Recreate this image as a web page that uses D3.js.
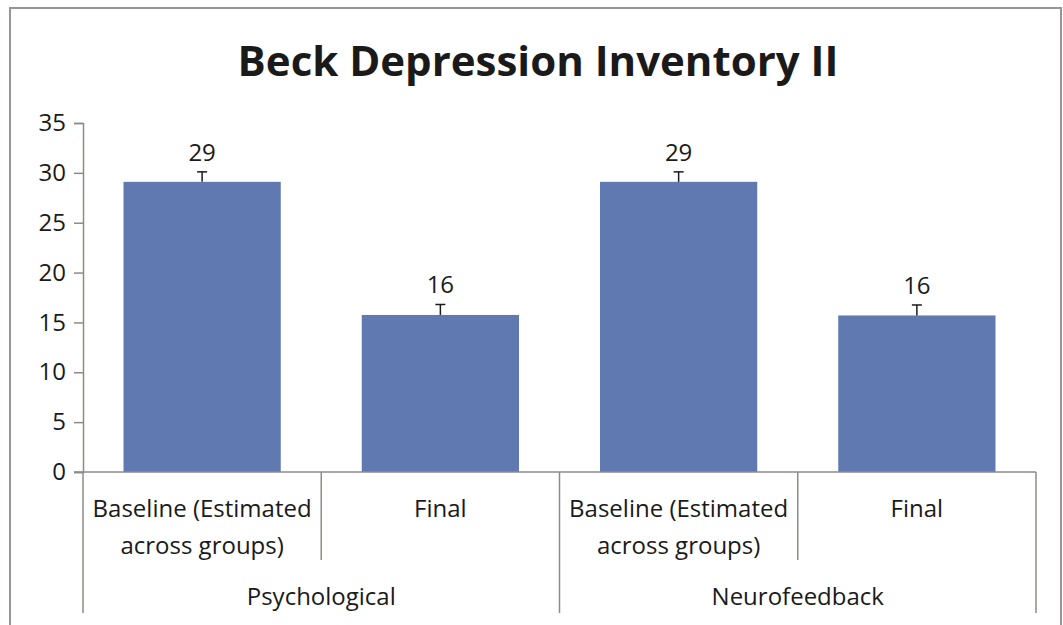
<!DOCTYPE html>
<html><head><meta charset="utf-8">
<script src="https://cdn.jsdelivr.net/npm/d3@7"></script>
<style>body{margin:0;background:#fff}svg{display:block}text{font-family:"Open Sans",sans-serif;fill:#1a1a1a;font-variant-ligatures:none}</style>
</head><body>
<script>
const title = "Beck Depression Inventory II";
const categories = ["Baseline (Estimated|across groups)", "Final", "Baseline (Estimated|across groups)", "Final"];
const groups = ["Psychological", "Neurofeedback"];
const values = [29.1, 15.75, 29.1, 15.7];
const errors = [1.0, 1.05, 1.0, 1.05];
const valueLabels = ["29", "16", "29", "16"];
const yTicks = [0, 5, 10, 15, 20, 25, 30, 35];

const W = 1063, H = 625;
const FS = "24px";
const svg = d3.select("body").append("svg").attr("width", W).attr("height", H);
svg.append("rect").attr("x", 10).attr("y", 8).attr("width", 1051).attr("height", 640)
  .attr("fill", "#fff").attr("stroke", "#9a9594").attr("stroke-width", 2);

const x = d3.scaleBand().domain(d3.range(categories.length)).range([83, 1036])
  .paddingInner(0.34).paddingOuter(0.17);
const y = d3.scaleLinear().domain([0, 35]).range([472, 123]);
const axisColor = "#8f8a89";

svg.append("text").attr("x", 538).attr("y", 76).attr("text-anchor", "middle")
  .style("font-size", "42px").style("font-weight", "bold").text(title);

// y axis
const yAxis = svg.append("g").attr("transform", "translate(83,0)")
  .call(d3.axisLeft(y).tickValues(yTicks).tickSize(9).tickPadding(8).tickFormat(d3.format("d")));
yAxis.select(".domain").attr("stroke", axisColor).attr("stroke-width", 1.5);
yAxis.selectAll(".tick line").attr("stroke", axisColor).attr("stroke-width", 1.5);
yAxis.selectAll(".tick text").style("font-size", FS).style("font-family", "Open Sans").attr("fill", "#1a1a1a");

// bars
svg.selectAll(".bar").data(values).join("rect").attr("class", "bar")
  .attr("x", (d, i) => x(i)).attr("width", x.bandwidth())
  .attr("y", d => y(d)).attr("height", d => y(0) - y(d)).attr("fill", "#6079b0");

// error bars
const eb = svg.selectAll(".eb").data(values).join("g").attr("class", "eb");
eb.append("line").attr("x1", (d, i) => x(i) + x.bandwidth() / 2).attr("x2", (d, i) => x(i) + x.bandwidth() / 2)
  .attr("y1", d => y(d)).attr("y2", (d, i) => y(d + errors[i])).attr("stroke", "#1a1a1a").attr("stroke-width", 1.5);
eb.append("line").attr("x1", (d, i) => x(i) + x.bandwidth() / 2 - 5).attr("x2", (d, i) => x(i) + x.bandwidth() / 2 + 5)
  .attr("y1", (d, i) => y(d + errors[i])).attr("y2", (d, i) => y(d + errors[i])).attr("stroke", "#1a1a1a").attr("stroke-width", 1.5);

// value labels
svg.selectAll(".vl").data(values).join("text").attr("class", "vl")
  .attr("x", (d, i) => x(i) + x.bandwidth() / 2).attr("y", (d, i) => y(d + errors[i]) - 11)
  .attr("text-anchor", "middle").style("font-size", FS).text((d, i) => valueLabels[i]);

// x axis baseline
const step = x.step();
const x0 = 83, x1 = 1036;
svg.append("line").attr("x1", 74).attr("x2", x1).attr("y1", y(0)).attr("y2", y(0))
  .attr("stroke", axisColor).attr("stroke-width", 1.5);

// separators
for (let i = 0; i <= categories.length; i++) {
  const xs = x0 + i * step;
  const isGroup = i % 2 === 0;
  svg.append("line").attr("x1", xs).attr("x2", xs).attr("y1", y(0)).attr("y2", isGroup ? 613 : 560)
    .attr("stroke", axisColor).attr("stroke-width", 1.5);
}

// category labels
categories.forEach((c, i) => {
  const cx = x(i) + x.bandwidth() / 2;
  c.split("|").forEach((line, j) => {
    svg.append("text").attr("x", cx).attr("y", 517 + j * 37).attr("text-anchor", "middle")
      .style("font-size", FS).text(line);
  });
});
groups.forEach((g, i) => {
  svg.append("text").attr("x", x0 + (i * 2 + 1) * step).attr("y", 605).attr("text-anchor", "middle")
    .style("font-size", FS).text(g);
});
</script>
</body></html>
